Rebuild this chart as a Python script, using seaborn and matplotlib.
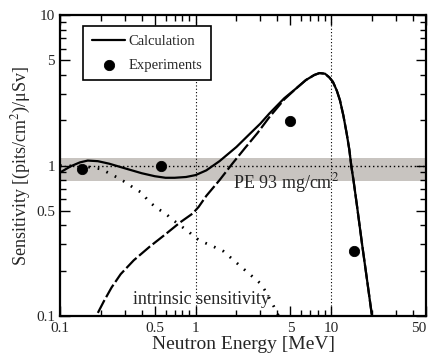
import matplotlib
matplotlib.use("Agg")
import matplotlib.pyplot as plt
import matplotlib.ticker as mticker
import seaborn as sns

# Calculated total sensitivity (solid)
calc_energy = [0.1, 0.12, 0.14, 0.16, 0.19, 0.23, 0.3, 0.4, 0.5, 0.6, 0.7, 0.85,
               1.0, 1.2, 1.5, 2.0, 2.5, 3.0, 3.5, 4.5, 5.5, 6.5, 7.5, 8.2, 9.0,
               9.7, 10.3, 11.0, 11.6, 12.3, 13.0, 13.6, 14.1, 14.6, 15.5, 16.9,
               18.5, 20.0]
calc_sens = [0.90, 0.99, 1.05, 1.08, 1.07, 1.03, 0.96, 0.89, 0.85, 0.83, 0.83, 0.84,
             0.865, 0.93, 1.07, 1.33, 1.62, 1.9, 2.22, 2.8, 3.25, 3.7, 4.0, 4.12, 4.08,
             3.85, 3.6, 3.15, 2.72, 2.15, 1.64, 1.28, 0.98, 0.80, 0.54, 0.30,
             0.167, 0.1]

# Recoil proton contribution (dashed)
recoil_energy = [0.19, 0.21, 0.24, 0.28, 0.35, 0.46, 0.6, 0.77, 0.95, 1.05, 1.2, 1.5,
                 1.85, 2.3, 2.85, 3.5, 4.5, 5.5, 6.5, 7.5, 8.2, 9.0, 9.7, 10.3, 11.0,
                 11.6, 12.3, 13.0, 13.6, 14.1, 14.6, 15.5, 16.9, 18.5, 20.0]
recoil_sens = [0.105, 0.125, 0.155, 0.19, 0.235, 0.29, 0.35, 0.42, 0.48, 0.53, 0.63, 0.80,
               1.02, 1.3, 1.64, 2.1, 2.75, 3.25, 3.7, 4.0, 4.12, 4.08, 3.85, 3.6, 3.15,
               2.72, 2.15, 1.64, 1.28, 0.98, 0.80, 0.54, 0.30, 0.167, 0.1]

# Intrinsic sensitivity (dotted)
intr_energy = [0.1, 0.15, 0.2, 0.23, 0.26, 0.3, 0.35, 0.4, 0.45, 0.52, 0.6, 0.67, 0.8,
               0.9, 1.0, 1.14, 1.35, 1.6, 2.2, 3.0, 3.3, 3.7, 4.1]
intr_sens = [1.0, 0.99, 0.95, 0.89, 0.84, 0.78, 0.71, 0.66, 0.58, 0.52, 0.48, 0.44, 0.39,
             0.36, 0.33, 0.31, 0.29, 0.27, 0.21, 0.165, 0.145, 0.12, 0.1]

# Measured points
exp_energy = [0.144, 0.555, 4.97, 14.7]
exp_sens = [0.95, 1.0, 1.98, 0.27]

x_ticks = [0.1, 0.5, 1, 5, 10, 50]
y_ticks = [0.1, 0.5, 1, 5, 10]

sns.set_style("ticks")
plt.rcParams["font.family"] = ["Liberation Serif", "DejaVu Serif"]
plt.rcParams["mathtext.fontset"] = "stix"

fig = plt.figure(figsize=(4.32, 3.6), dpi=100)
ax = fig.add_axes([0.139, 0.122, 0.847, 0.836])

ax.set_xscale("log")
ax.set_yscale("log")

# shaded band around 1 and reference lines
ax.axhspan(0.79, 1.12, color="#c8c4c0", zorder=0, lw=0)
ax.axhline(1, color="black", ls=(0, (1, 2)), lw=1, zorder=1)
for xv in [1, 10]:
    ax.axvline(xv, color="black", ls=(0, (1, 2)), lw=0.8, zorder=1)

sns.lineplot(x=intr_energy, y=intr_sens, ax=ax, color="black", lw=2,
             ls=(0, (0.6, 2.8)), sort=False, zorder=2)
sns.lineplot(x=recoil_energy, y=recoil_sens, ax=ax, color="black", lw=1.6,
             ls=(0, (6.5, 1.5)), sort=False, zorder=2)
sns.lineplot(x=calc_energy, y=calc_sens, ax=ax, color="black", lw=1.6,
             sort=False, zorder=3, label="Calculation")
sns.scatterplot(x=exp_energy, y=exp_sens, ax=ax, color="black", s=55,
                edgecolor="black", zorder=4, label="Experiments")

ax.set_xlim(0.1, 50)
ax.set_ylim(0.1, 10)
ax.xaxis.set_major_locator(mticker.FixedLocator(x_ticks))
ax.yaxis.set_major_locator(mticker.FixedLocator(y_ticks))
ax.xaxis.set_major_formatter(mticker.FixedFormatter([str(t) for t in x_ticks]))
ax.yaxis.set_major_formatter(mticker.FixedFormatter([str(t) for t in y_ticks]))
ax.xaxis.set_minor_locator(mticker.LogLocator(subs=[2, 3, 4, 6, 7, 8, 9], numticks=20))
ax.yaxis.set_minor_locator(mticker.LogLocator(subs=[2, 3, 4, 6, 7, 8, 9], numticks=20))
ax.xaxis.set_minor_formatter(mticker.NullFormatter())
ax.yaxis.set_minor_formatter(mticker.NullFormatter())
ax.tick_params(which="both", direction="in", top=True, right=True, labelsize=11,
               width=1, color="black")
ax.tick_params(which="major", length=7)
ax.tick_params(which="minor", length=4)
ax.tick_params(axis="x", pad=4)
for sp in ax.spines.values():
    sp.set_linewidth(1.6)
    sp.set_color("black")

# keep the last x label inside the canvas
ax.get_xticklabels()[-1].set_horizontalalignment("right")
ax.get_xticklabels()[-1].set_x(50)

ax.set_xlabel("Neutron Energy [MeV]", fontsize=14, labelpad=1)
ax.set_ylabel("Sensitivity [(pits/cm$^2$)/\u03bcSv]", fontsize=13, labelpad=2)

ax.text(1.89, 0.765, "PE 93 mg/cm$^2$", fontsize=13, va="center", ha="left")
ax.text(0.345, 0.128, "intrinsic sensitivity", fontsize=13, va="center", ha="left")

leg = ax.legend(loc="upper left", bbox_to_anchor=(0.063, 0.963), fontsize=10.5,
                frameon=True, fancybox=False, edgecolor="black", framealpha=1,
                handlelength=2.3, handletextpad=0.2, labelspacing=0.7,
                borderpad=0.6, borderaxespad=0)
leg.get_frame().set_linewidth(1.2)

fig.savefig("out.png", dpi=100)
